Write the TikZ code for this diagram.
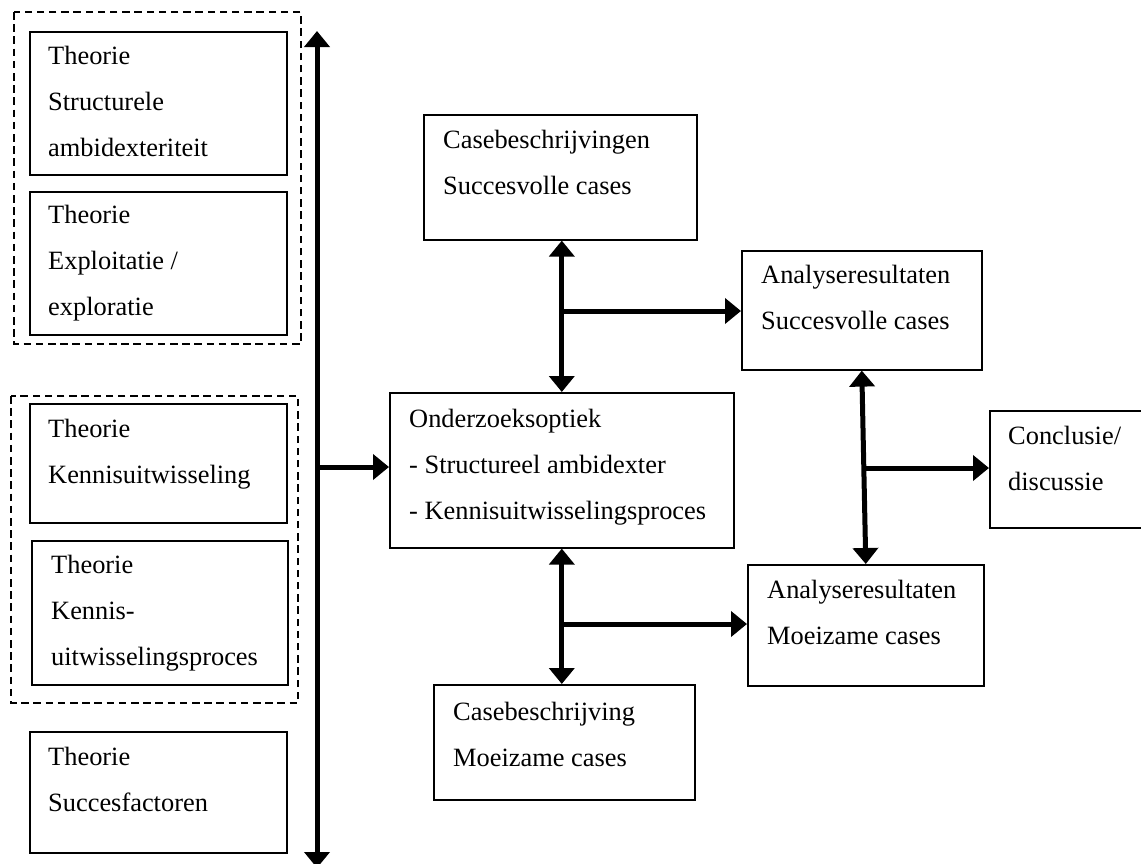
\documentclass[tikz,border=0pt]{standalone}
\usepackage{fontspec}
\setmainfont{Liberation Serif}
\usetikzlibrary{arrows.meta}
\begin{document}
\begin{tikzpicture}[x=1pt,y=-1pt,
  box/.style={draw, line width=1.6pt, inner sep=0pt, anchor=north west},
  grp/.style={draw, line width=1.8pt, dash pattern=on 7.5pt off 4.7pt},
  txt/.style={inner sep=0pt, anchor=north west, align=left,
    font=\fontsize{26.4}{46}\selectfont},
  bigarrow/.style={line width=5pt, -{Triangle[width=25pt,length=16pt]}},
  dblarrow/.style={line width=5pt, {Triangle[width=25pt,length=16pt]}-{Triangle[width=25pt,length=16pt]}}
]
\useasboundingbox (0,0) rectangle (1141,863);
\clip (0,0) rectangle (1141,863);
\fill[white] (0,0) rectangle (1141,863);

% dashed groups
\draw[grp] (14,12) rectangle (301,344);
\draw[grp] (11,396) rectangle (298,703);

% left boxes
\node[box, minimum width=257pt, minimum height=143pt] (b1) at (29,31) {};
\node[box, minimum width=257pt, minimum height=143pt] (b2) at (29,191) {};
\node[box, minimum width=257pt, minimum height=119pt] (b3) at (29,403) {};
\node[box, minimum width=256pt, minimum height=144pt] (b4) at (31,540) {};
\node[box, minimum width=257pt, minimum height=121pt] (b5) at (29,731) {};

\node[txt] (t1) at (48,44) {\rule{0pt}{20pt}Theorie\\Structurele\\ambidexteriteit};
\node[txt] (t2) at (48,203) {\rule{0pt}{20pt}Theorie\\Exploitatie /\\exploratie};
\node[txt] (t3) at (48,417) {\rule{0pt}{20pt}Theorie\\Kennisuitwisseling};
\node[txt] (t4) at (51,553) {\rule{0pt}{20pt}Theorie\\Kennis-\\uitwisselingsproces};
\node[txt] (t5) at (48,745) {\rule{0pt}{20pt}Theorie\\Succesfactoren};

% right boxes
\node[box, minimum width=273pt, minimum height=125pt] (cb1) at (423,114) {};
\node[box, minimum width=344pt, minimum height=155pt] (ok) at (389,392) {};
\node[box, minimum width=240pt, minimum height=119pt] (as) at (741,250) {};
\node[box, minimum width=170pt, minimum height=117pt] (cd) at (989,410) {};
\node[box, minimum width=236pt, minimum height=121pt] (am) at (747,564) {};
\node[box, minimum width=261pt, minimum height=115pt] (cb2) at (433,684) {};

\node[txt] (tcb1) at (443,128) {\rule{0pt}{20pt}Casebeschrijvingen\\Succesvolle cases};
\node[txt] (tok) at (409,407) {\rule{0pt}{20pt}Onderzoeksoptiek\\- Structureel ambidexter\\- Kennisuitwisselingsproces};
\node[txt] (tas) at (761,263) {\rule{0pt}{20pt}Analyseresultaten\\Succesvolle cases};
\node[txt] (tcd) at (1008,424) {\rule{0pt}{20pt}Conclusie/\\discussie};
\node[txt] (tam) at (767,578) {\rule{0pt}{20pt}Analyseresultaten\\Moeizame cases};
\node[txt] (tcb2) at (453,700) {\rule{0pt}{20pt}Casebeschrijving\\Moeizame cases};

% main vertical arrow
\coordinate (vt) at (317,31);
\coordinate (vb) at (317,868);
\coordinate (vj) at (317,467);
\draw[dblarrow] (vt) -- (vb);
\draw[bigarrow] (vj) -- (vj -| ok.west);

% upper center
\draw[dblarrow] (cb1.south -| ok.north) -- (ok.north);
\coordinate (j1) at (561,311);
\draw[bigarrow] (j1) -- (j1 -| as.west);

% lower center
\draw[dblarrow] (ok.south) -- (ok.south |- cb2.north);
\coordinate (j2) at (561,624);
\draw[bigarrow] (j2) -- (j2 -| am.west);

% right
\draw[dblarrow] (as.south) -- (am.north);
\coordinate (j3) at (863,468);
\draw[bigarrow] (j3) -- (j3 -| cd.west);
\end{tikzpicture}
\end{document}
